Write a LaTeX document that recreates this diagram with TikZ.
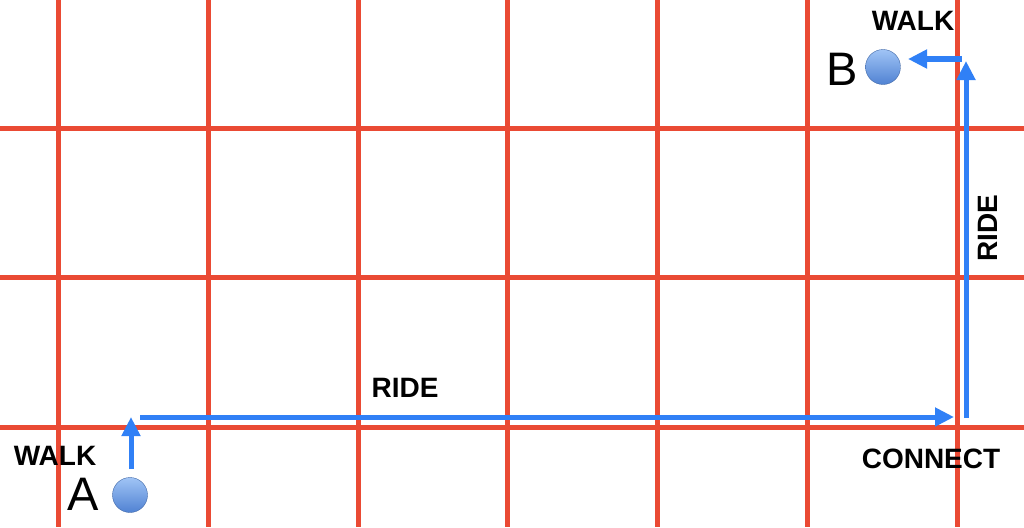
\documentclass[tikz,border=0pt]{standalone}
\usepackage{fontspec}
\setmainfont{Liberation Sans}
\usetikzlibrary{arrows.meta}
\definecolor{gridred}{RGB}{234,74,52}
\definecolor{routeblue}{RGB}{48,128,246}
\definecolor{balltop}{RGB}{160,196,246}
\definecolor{ballbot}{RGB}{80,130,210}
\begin{document}
\begin{tikzpicture}[x=1pt,y=-1pt,
  gridline/.style={draw=gridred,line width=5pt},
  route/.style={draw=routeblue,line width=5pt,-{Triangle[length=19pt,width=18pt]}},
  lbl/.style={font=\fontsize{28}{30}\selectfont\bfseries,text=black,inner sep=0pt},
  place/.style={font=\fontsize{47}{50}\selectfont,text=black,inner sep=0pt},
  stop/.style={circle,minimum size=35pt,inner sep=0pt,top color=balltop,bottom color=ballbot,draw=ballbot!80!black,line width=0.4pt}]
\useasboundingbox (0,0) rectangle (1024,527);
\fill[white] (0,0) rectangle (1024,527);
% grid
\foreach \x in {58,208,358,507,657,807,957} \draw[gridline] (\x,0) -- (\x,527);
\foreach \y in {128,277,427} \draw[gridline] (0,\y) -- (1024,\y);
% stops
\node[stop] (a) at (130,495) {};
\node[stop] (b) at (883,67) {};
\node[place] (alab) at (83,494) {A};
\node[place] (blab) at (842,69) {B};
% labels
\node[lbl] (walk1) at (55,456) {WALK};
\node[lbl] (walk2) at (913,21) {WALK};
\node[lbl] (ride1) at (405,388) {RIDE};
\node[lbl,rotate=90] (ride2) at (988,228) {RIDE};
\node[lbl] (conn) at (931,459) {CONNECT};
% route coordinates
\coordinate (w1s) at (131,469);
\coordinate (w1e) at (131,417);
\coordinate (r1s) at (140,417);
\coordinate (r1e) at (954,417);
\coordinate (r2s) at (966,418);
\coordinate (r2e) at (966,61);
\coordinate (w2s) at (962,59);
\coordinate (w2e) at (908,59);
\draw[route] (w1s) -- (w1e);
\draw[route] (r1s) -- (r1e);
\draw[route] (r2s) -- (r2e);
\draw[route] (w2s) -- (w2e);
\end{tikzpicture}
\end{document}
